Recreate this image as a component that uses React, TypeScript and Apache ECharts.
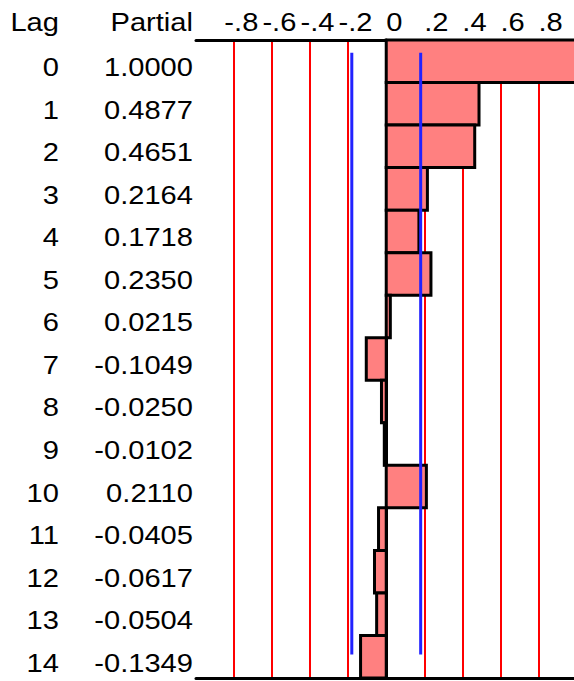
import React, { useEffect, useRef } from "react";
import * as echarts from "echarts";

const LAGS = ["0", "1", "2", "3", "4", "5", "6", "7", "8", "9", "10", "11", "12", "13", "14"];
const PARTIAL = [1.0, 0.4877, 0.4651, 0.2164, 0.1718, 0.235, 0.0215, -0.1049, -0.025, -0.0102, 0.211, -0.0405, -0.0617, -0.0504, -0.1349];
const TICKS = [-0.8, -0.6, -0.4, -0.2, 0, 0.2, 0.4, 0.6, 0.8];
const TICK_LABELS = ["-.8", "-.6", "-.4", "-.2", "0", ".2", ".4", ".6", ".8"];
const CONF_LIMIT = 0.181;
const CONF_ROWS = [0.3, 14.45];
const HEADERS = ["Lag", "Partial"];
const X_MIN = -1;
const X_MAX = 0.987; // visible right edge of the cropped plot

const FONT = "'Liberation Sans', Arial, Helvetica, sans-serif";
const FS = 26;
const SX = 1.12;

export default function App() {
  const ref = useRef<HTMLDivElement>(null);
  useEffect(() => {
    if (!ref.current) return;
    const chart = echarts.init(ref.current, null, { renderer: "svg" });
    const axisLine = { show: true, lineStyle: { color: "#000", width: 3 } };
    chart.setOption({
      animation: false,
      backgroundColor: "#fff",
      grid: { left: 196, top: 40, right: 0, height: 638, containLabel: false },
      xAxis: [
        {
          type: "value", min: X_MIN, max: X_MAX, interval: 0.2, position: "top",
          axisLine, axisTick: { show: false }, axisLabel: { show: false },
          splitLine: { show: true, showMinLine: false, showMaxLine: false, lineStyle: { color: "#FF0000", width: 2 } },
        },
        {
          type: "value", min: X_MIN, max: X_MAX, interval: 0.2, position: "bottom",
          axisLine, axisTick: { show: false }, axisLabel: { show: false }, splitLine: { show: false },
        },
      ],
      yAxis: [
        {
          type: "category", data: LAGS, inverse: true, offset: -3,
          axisLine, axisTick: { show: false }, axisLabel: { show: false }, splitLine: { show: false },
        },
        { type: "value", min: 0, max: 15, inverse: true, show: false },
      ],
      series: [
        {
          type: "custom", xAxisIndex: 0, yAxisIndex: 0, z: 2, clip: false,
          data: PARTIAL.map((v, i) => [v, i]),
          encode: { x: 0, y: 1 },
          renderItem: (params: any, api: any) => {
            const v = api.value(0);
            const idx = api.value(1);
            const p0 = api.coord([0, idx]);
            const p1 = api.coord([v, idx]);
            const h = api.size([0, 1])[1];
            return {
              type: "rect",
              shape: { x: Math.min(p0[0], p1[0]), y: p0[1] - h / 2, width: Math.abs(p1[0] - p0[0]), height: h },
              style: { fill: "#FF8080", stroke: "#000", lineWidth: 3 },
            };
          },
        },
        ...[-CONF_LIMIT, CONF_LIMIT].map((c) => ({
          type: "line", xAxisIndex: 0, yAxisIndex: 1, z: 5, symbol: "none",
          data: CONF_ROWS.map((r) => [c, r]),
          lineStyle: { color: "#2222FF", width: 3 },
        })),
      ],
    });

    let minusW = 0.333 * FS;
    try {
      const ctx = document.createElement("canvas").getContext("2d");
      if (ctx) { ctx.font = `${FS}px 'Liberation Sans'`; minusW = ctx.measureText("-").width; }
    } catch (e) {}

    const txt = (text: string, x: number, y: number, align: string) => ({
      type: "text", x, y, scaleX: SX, scaleY: 1,
      style: { text, x: 0, y: 0, fill: "#000", font: `${FS}px ${FONT}`, textAlign: align, textVerticalAlign: "middle" },
    });

    const graphics: any[] = [];
    graphics.push(txt(HEADERS[0], 59, 22.5, "right"));
    graphics.push(txt(HEADERS[1], 193, 22.5, "right"));
    TICKS.forEach((t, i) => {
      const px = chart.convertToPixel({ xAxisIndex: 0 }, t) as number;
      const x = t < 0 ? px - minusW * SX : px;
      graphics.push(txt(TICK_LABELS[i], x, 22, "left"));
    });
    LAGS.forEach((lag, i) => {
      const py = chart.convertToPixel({ yAxisIndex: 0 }, i) as number;
      graphics.push(txt(lag, 59, py + 6, "right"));
      graphics.push(txt(PARTIAL[i].toFixed(4), 193, py + 6, "right"));
    });
    chart.setOption({ graphic: graphics });
    return () => chart.dispose();
  }, []);
  return (
    <div style={{ position: "absolute", left: 0, top: 0, width: 574, height: 681, overflow: "hidden" }}>
      <div ref={ref} style={{ width: 574, height: 681 }} />
    </div>
  );
}
